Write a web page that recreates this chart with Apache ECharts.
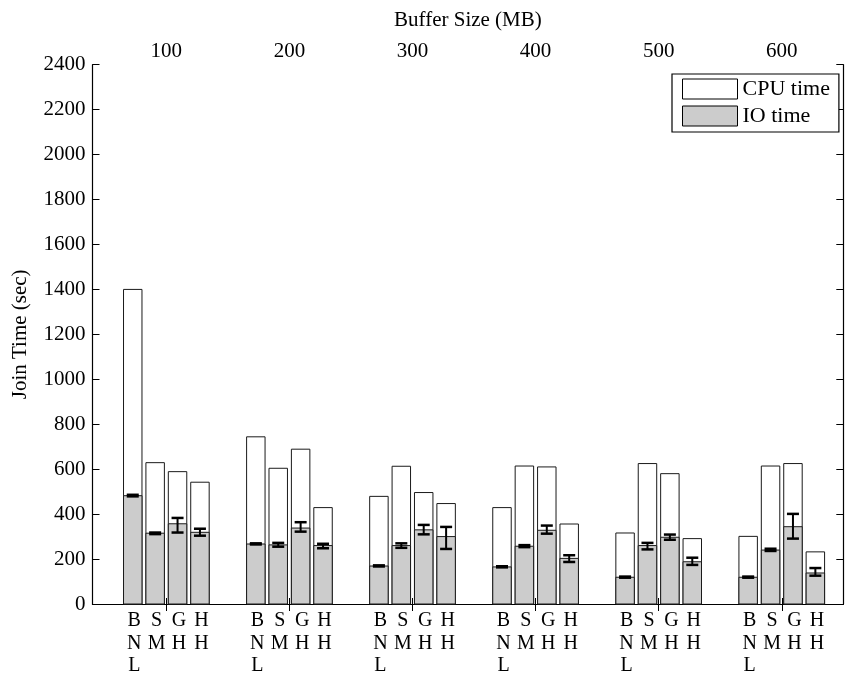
<!DOCTYPE html>
<html>
<head>
<meta charset="utf-8">
<script src="https://cdn.jsdelivr.net/npm/echarts@6/dist/echarts.min.js"></script>
<style>html,body{margin:0;padding:0;background:#fff;}#c{width:847px;height:673px;}</style>
</head>
<body>
<div id="c"></div>
<script>
// ---- data ----
var bufferSizes = [100, 200, 300, 400, 500, 600];
var algorithms = ['BNL', 'SM', 'GH', 'HH'];
var yTicks = [0, 200, 400, 600, 800, 1000, 1200, 1400, 1600, 1800, 2000, 2200, 2400];

var totalBNL = [1400, 744, 479, 429, 316, 301];
var totalSM  = [629, 604, 613, 614, 625, 614];
var totalGH  = [589, 689, 496, 610, 580, 625];
var totalHH  = [542, 429, 447, 356, 291, 232];

var ioBNL = [482, 267, 169, 165, 119, 119];
var ioSM  = [315, 263, 260, 257, 260, 240];
var ioGH  = [357, 338, 330, 328, 297, 344];
var ioHH  = [319, 260, 300, 203, 188, 138];

var ioLowBNL  = [479, 265, 167, 163, 117, 117];
var ioHighBNL = [486, 270, 172, 168, 122, 122];
var ioLowSM   = [311, 255, 250, 253, 243, 236];
var ioHighSM  = [318, 272, 270, 262, 272, 246];
var ioLowGH   = [318, 322, 310, 313, 286, 291];
var ioHighGH  = [383, 364, 352, 349, 309, 401];
var ioLowHH   = [304, 248, 245, 187, 174, 126];
var ioHighHH  = [335, 268, 343, 217, 206, 160];

// ---- build ----
var totals = [totalBNL, totalSM, totalGH, totalHH];
var ios = [ioBNL, ioSM, ioGH, ioHH];
var lows = [ioLowBNL, ioLowSM, ioLowGH, ioLowHH];
var highs = [ioHighBNL, ioHighSM, ioHighGH, ioHighHH];

var data = [];
for (var g = 0; g < bufferSizes.length; g++) {
  for (var k = 0; k < algorithms.length; k++) {
    data.push([bufferSizes[g], k, totals[k][g], ios[k][g], lows[k][g], highs[k][g]]);
  }
}

var SLOT = 18.2;   // spacing between bars within a group (axis units)
var BARW = 15;     // bar width (axis units)
var FONT = 'Liberation Serif, Times New Roman, serif';

function renderItem(params, api) {
  var x = api.value(0), k = api.value(1);
  var total = api.value(2), io = api.value(3), lo = api.value(4), hi = api.value(5);
  var cx = x + (k - 1.5) * SLOT;
  var w = api.size([BARW, 0])[0];
  var p0 = api.coord([cx, 0]);
  var pT = api.coord([cx, total]);
  var pI = api.coord([cx, io]);
  var pL = api.coord([cx, lo]);
  var pH = api.coord([cx, hi]);
  var left = p0[0] - w / 2;
  var capW = 12;
  var stroke = '#1a1a1a';
  var label = algorithms[k].split('').join('\n');
  return {
    type: 'group',
    children: [
      { type: 'rect', shape: { x: left, y: pT[1], width: w, height: p0[1] - pT[1] },
        style: { fill: '#ffffff', stroke: stroke, lineWidth: 1 } },
      { type: 'rect', shape: { x: left, y: pI[1], width: w, height: p0[1] - pI[1] },
        style: { fill: '#cccccc', stroke: stroke, lineWidth: 1 } },
      { type: 'line', shape: { x1: p0[0], y1: pL[1], x2: p0[0], y2: pH[1] },
        style: { stroke: '#000', lineWidth: 2 } },
      { type: 'line', shape: { x1: p0[0] - capW / 2, y1: pL[1], x2: p0[0] + capW / 2, y2: pL[1] },
        style: { stroke: '#000', lineWidth: 2.5 } },
      { type: 'line', shape: { x1: p0[0] - capW / 2, y1: pH[1], x2: p0[0] + capW / 2, y2: pH[1] },
        style: { stroke: '#000', lineWidth: 2.5 } },
      { type: 'text', x: p0[0] + 1.5, y: p0[1] + 6,
        style: { text: label, fill: '#000', font: '20px ' + FONT, align: 'center',
                 verticalAlign: 'top', lineHeight: 22.3 } }
    ]
  };
}

var chart = echarts.init(document.getElementById('c'), null, { renderer: 'canvas' });
var axisLine = { show: true, lineStyle: { color: '#000', width: 1.2 } };
var option = {
  animation: false,
  backgroundColor: '#fff',
  textStyle: { fontFamily: FONT },
  grid: { left: 92.5, right: 3.7, top: 64.7, bottom: 69, containLabel: false },
  legend: {
    orient: 'vertical', left: 672, top: 74,
    padding: [4, 9, 5, 10],
    itemGap: 5, itemWidth: 55, itemHeight: 20,
    borderColor: '#000', borderWidth: 1.2, backgroundColor: '#fff',
    textStyle: { fontSize: 22, fontFamily: FONT, color: '#000' },
    data: [
      { name: 'CPU time', icon: 'rect', itemStyle: { color: '#fff', borderColor: '#000', borderWidth: 1 } },
      { name: 'IO time', icon: 'rect', itemStyle: { color: '#cccccc', borderColor: '#000', borderWidth: 1 } }
    ],
    z: 10
  },
  xAxis: [
    {
      type: 'value', position: 'top', min: 40, max: 650,
      name: 'Buffer Size (MB)', nameLocation: 'middle', nameGap: 34,
      nameTextStyle: { fontSize: 21, fontFamily: FONT, color: '#000' },
      axisLine: axisLine,
      axisTick: { show: true, inside: true, length: 7, customValues: bufferSizes, lineStyle: { color: '#000' } },
      axisLabel: { show: true, customValues: bufferSizes, fontSize: 21, fontFamily: FONT, color: '#000', margin: 3 },
      splitLine: { show: false }
    },
    {
      type: 'value', position: 'bottom', min: 40, max: 650,
      axisLine: axisLine,
      axisTick: { show: true, inside: true, length: 6, customValues: bufferSizes, lineStyle: { color: '#000' } },
      axisLabel: { show: false },
      splitLine: { show: false }
    }
  ],
  yAxis: [
    {
      type: 'value', position: 'left', min: 0, max: 2400, interval: 200,
      name: 'Join Time (sec)', nameLocation: 'middle', nameGap: 62,
      nameTextStyle: { fontSize: 21, fontFamily: FONT, color: '#000' },
      axisLine: axisLine,
      axisTick: { show: true, inside: true, length: 7, customValues: yTicks, lineStyle: { color: '#000' } },
      axisLabel: { show: true, customValues: yTicks, fontSize: 21, fontFamily: FONT, color: '#000', margin: 7,
                   formatter: function (v) { return String(v); } },
      splitLine: { show: false }
    },
    {
      type: 'value', position: 'right', min: 0, max: 2400, interval: 200,
      axisLine: axisLine,
      axisTick: { show: true, inside: true, length: 7, lineStyle: { color: '#000' } },
      axisLabel: { show: false },
      splitLine: { show: false }
    }
  ],
  series: [
    { type: 'custom', name: 'bars', xAxisIndex: 0, yAxisIndex: 0, clip: false,
      renderItem: renderItem, data: data, z: 2 },
    { type: 'bar', name: 'CPU time', data: [], itemStyle: { color: '#fff', borderColor: '#000', borderWidth: 1 } },
    { type: 'bar', name: 'IO time', data: [], itemStyle: { color: '#cccccc', borderColor: '#000', borderWidth: 1 } }
  ]
};
chart.setOption(option);
</script>
</body>
</html>
